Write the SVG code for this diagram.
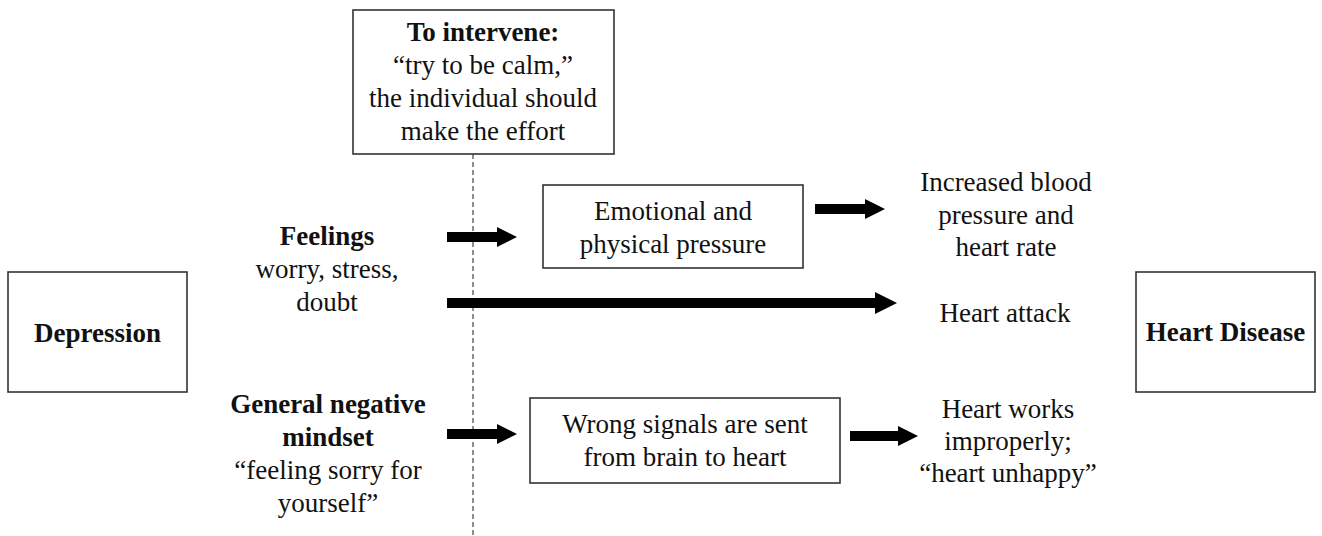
<svg xmlns="http://www.w3.org/2000/svg" width="1322" height="536" viewBox="0 0 1322 536">
<style>
.box{fill:#fff;stroke:#333;stroke-width:1.6}
text{font-family:"Liberation Serif","Times New Roman",serif;font-size:27px;fill:#111;text-anchor:middle}
.b{font-weight:bold}
.arr{fill:#000}
.dash{stroke:#444;stroke-width:1.2;stroke-dasharray:5 3;fill:none}
</style>
<rect width="1322" height="536" fill="#fff"/>
<g id="connectors">
<line class="dash" x1="473" y1="154" x2="473" y2="536"/>
<polygon class="arr" points="447,232 497,232 497,227 517,237 497,247 497,242 447,242"/>
<polygon class="arr" points="447,298 875,298 875,292 897,303 875,314 875,308 447,308"/>
<polygon class="arr" points="815,204 865,204 865,199 885,209 865,219 865,214 815,214"/>
<polygon class="arr" points="447,429 497,429 497,424 517,434 497,444 497,439 447,439"/>
<polygon class="arr" points="850,431 898,431 898,426 918,436 898,446 898,441 850,441"/>
</g>
<g id="intervene">
<rect class="box" x="353" y="10" width="261" height="144"/>
<text x="483" y="41" class="b">To intervene:</text>
<text x="483" y="74">“try to be calm,”</text>
<text x="483" y="107">the individual should</text>
<text x="483" y="140">make the effort</text>
</g>
<g id="depression">
<rect class="box" x="8" y="272" width="179" height="120"/>
<text x="97.5" y="342" class="b">Depression</text>
</g>
<g id="feelings">
<text x="327" y="245" class="b">Feelings</text>
<text x="327" y="278">worry, stress,</text>
<text x="327" y="311">doubt</text>
</g>
<g id="negative">
<text x="328" y="413" class="b">General negative</text>
<text x="328" y="446" class="b">mindset</text>
<text x="328" y="479">“feeling sorry for</text>
<text x="328" y="512">yourself”</text>
</g>
<g id="pressure">
<rect class="box" x="543" y="185" width="260" height="83"/>
<text x="673" y="220">Emotional and</text>
<text x="673" y="253">physical pressure</text>
</g>
<g id="signals">
<rect class="box" x="530" y="398" width="310" height="85"/>
<text x="685" y="433">Wrong signals are sent</text>
<text x="685" y="466">from brain to heart</text>
</g>
<g id="bloodpressure">
<text x="1006" y="191">Increased blood</text>
<text x="1006" y="224">pressure and</text>
<text x="1006" y="256">heart rate</text>
</g>
<g id="heartattack">
<text x="1005" y="322">Heart attack</text>
</g>
<g id="heartworks">
<text x="1008" y="418">Heart works</text>
<text x="1008" y="450">improperly;</text>
<text x="1008" y="482">“heart unhappy”</text>
</g>
<g id="heartdisease">
<rect class="box" x="1136" y="272" width="179" height="120"/>
<text x="1225.5" y="341" class="b">Heart Disease</text>
</g>
</svg>
